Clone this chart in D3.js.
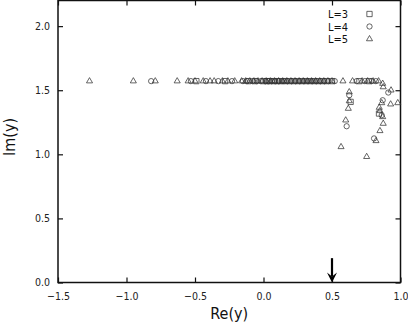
<!DOCTYPE html>
<head>
  <meta charset="utf-8">
  <script src="https://d3js.org/d3.v7.min.js"></script>
  <style>
    body { margin: 0; background: #fff; }
    .tick-label { font-family: "DejaVu Sans Condensed", "DejaVu Sans", sans-serif; font-size: 10.5px; fill: #222; }
    .title { font-family: "DejaVu Sans Condensed", "DejaVu Sans", sans-serif; font-size: 16px; fill: #111; }
    .legend { font-family: "DejaVu Sans Condensed", "DejaVu Sans", sans-serif; font-size: 11px; fill: #111; }
    .pt { fill: none; stroke: #333; stroke-width: 0.75; }
  </style>
</head>
<body>
  <script>

  // tick values
  var xTicks = [-1.5, -1.0, -0.5, 0.0, 0.5, 1.0];
  var yTicks = [0.0, 0.5, 1.0, 1.5, 2.0];

  // legend labels
  var seriesNames = ["L=3", "L=4", "L=5"];

  // points [Re(y), Im(y)]
  var l3Points = [
    [-0.49, 1.571], [-0.28, 1.571], [-0.11, 1.571], [-0.06, 1.571], [0.00, 1.571],
    [0.025, 1.571], [0.045, 1.571], [0.075, 1.571], [0.10, 1.571], [0.125, 1.571],
    [0.16, 1.571], [0.19, 1.571], [0.22, 1.571], [0.25, 1.571], [0.28, 1.571],
    [0.31, 1.571], [0.34, 1.571], [0.37, 1.571], [0.40, 1.571], [0.43, 1.571],
    [0.46, 1.571], [0.50, 1.571], [0.70, 1.571], [0.77, 1.571],
    [0.636, 1.409], [0.843, 1.318]
  ];
  var l4Points = [
    [-0.82, 1.571], [-0.53, 1.571], [-0.42, 1.571], [-0.33, 1.571], [-0.23, 1.571],
    [-0.15, 1.571], [-0.12, 1.571], [-0.08, 1.571], [-0.05, 1.571], [-0.02, 1.571],
    [0.015, 1.571], [0.035, 1.571], [0.06, 1.571], [0.085, 1.571], [0.11, 1.571],
    [0.135, 1.571], [0.15, 1.571], [0.175, 1.571], [0.205, 1.571], [0.235, 1.571],
    [0.265, 1.571], [0.295, 1.571], [0.325, 1.571], [0.355, 1.571], [0.385, 1.571],
    [0.415, 1.571], [0.445, 1.571], [0.475, 1.571], [0.52, 1.571], [0.68, 1.571],
    [0.74, 1.571], [0.79, 1.571], [0.82, 1.571],
    [0.911, 1.482], [0.626, 1.461], [0.870, 1.422], [0.863, 1.305], [0.607, 1.219],
    [0.807, 1.124]
  ];
  var l5Points = [
    [-1.27, 1.571], [-0.95, 1.571], [-0.79, 1.571], [-0.63, 1.571], [-0.55, 1.571],
    [-0.50, 1.571], [-0.44, 1.571], [-0.39, 1.571], [-0.36, 1.571], [-0.30, 1.571],
    [-0.26, 1.571], [-0.21, 1.571], [-0.16, 1.571], [-0.13, 1.571], [-0.10, 1.571],
    [-0.07, 1.571], [-0.04, 1.571], [-0.01, 1.571], [0.02, 1.571], [0.05, 1.571],
    [0.08, 1.571], [0.11, 1.571], [0.14, 1.571], [0.17, 1.571], [0.20, 1.571],
    [0.23, 1.571], [0.26, 1.571], [0.29, 1.571], [0.32, 1.571], [0.35, 1.571],
    [0.38, 1.571], [0.41, 1.571], [0.44, 1.571], [0.47, 1.571], [0.50, 1.571],
    [0.58, 1.571], [0.65, 1.571], [0.72, 1.571], [0.76, 1.571], [0.80, 1.571],
    [0.84, 1.571],
    [0.870, 1.552], [0.874, 1.525], [0.931, 1.500], [0.626, 1.486], [0.626, 1.416],
    [0.619, 1.357], [0.863, 1.401], [0.928, 1.391], [0.980, 1.401], [0.845, 1.365],
    [0.850, 1.339], [0.870, 1.292], [0.874, 1.240], [0.850, 1.183], [0.600, 1.266],
    [0.821, 1.105], [0.566, 1.058], [0.753, 0.981]
  ];

  // arrow marking Re(y) = 0.5
  var arrowRe = 0.5, arrowTopIm = 0.19;

  var width = 408, height = 326;
  var margin = {left: 58, right: 7.5, top: 0.5, bottom: 43.5};

  var x = d3.scaleLinear()
    .domain([-1.5, 1.0])
    .range([margin.left, width - margin.right]);

  var y = d3.scaleLinear()
    .domain([0, 2.2])
    .range([height - margin.bottom, margin.top]);

  var svg = d3.select("body").append("svg")
    .attr("width", width)
    .attr("height", height);

  // frame
  svg.append("rect")
    .attr("x", x(-1.5))
    .attr("y", y(2.2))
    .attr("width", x(1.0) - x(-1.5))
    .attr("height", y(0) - y(2.2))
    .attr("fill", "none")
    .attr("stroke", "#111")
    .attr("stroke-width", 1.5);

  // inner ticks on all four sides
  var tickLen = 5;
  svg.append("g").attr("transform", "translate(0," + y(0) + ")")
    .call(d3.axisBottom(x).tickValues(xTicks).tickSizeInner(-tickLen).tickSizeOuter(0).tickFormat(d3.format(".1f")))
    .call(function(g) {
      g.select(".domain").remove();
      g.selectAll("line").attr("stroke", "#111").attr("stroke-width", 1.2);
      g.selectAll("text").attr("class", "tick-label").attr("y", 10).attr("dy", "0.71em");
    });
  svg.append("g").attr("transform", "translate(0," + y(2.2) + ")")
    .call(d3.axisTop(x).tickValues(xTicks).tickSizeInner(-tickLen).tickSizeOuter(0).tickFormat(""))
    .call(function(g) {
      g.select(".domain").remove();
      g.selectAll("line").attr("stroke", "#111").attr("stroke-width", 1.2);
    });
  svg.append("g").attr("transform", "translate(" + x(-1.5) + ",0)")
    .call(d3.axisLeft(y).tickValues(yTicks).tickSizeInner(-tickLen).tickSizeOuter(0).tickFormat(d3.format(".1f")))
    .call(function(g) {
      g.select(".domain").remove();
      g.selectAll("line").attr("stroke", "#111").attr("stroke-width", 1.2);
      g.selectAll("text").attr("class", "tick-label").attr("x", -8);
    });
  svg.append("g").attr("transform", "translate(" + x(1.0) + ",0)")
    .call(d3.axisRight(y).tickValues(yTicks).tickSizeInner(-tickLen).tickSizeOuter(0).tickFormat(""))
    .call(function(g) {
      g.select(".domain").remove();
      g.selectAll("line").attr("stroke", "#111").attr("stroke-width", 1.2);
    });

  // axis titles
  svg.append("text")
    .attr("class", "title")
    .attr("x", (x(-1.5) + x(1.0)) / 2)
    .attr("y", 319)
    .attr("text-anchor", "middle")
    .text("Re(y)");
  svg.append("text")
    .attr("class", "title")
    .attr("transform", "translate(15,137) rotate(-90)")
    .attr("text-anchor", "middle")
    .text("Im(y)");

  // markers
  var shapes = [
    d3.symbol().type(d3.symbolSquare).size(28),
    d3.symbol().type(d3.symbolCircle).size(22),
    d3.symbol().type(d3.symbolTriangle).size(16)
  ];
  var allSeries = [l3Points, l4Points, l5Points];

  allSeries.forEach(function(pts, i) {
    svg.append("g").selectAll("path")
      .data(pts)
      .enter().append("path")
      .attr("class", "pt")
      .attr("transform", function(d) { return "translate(" + x(d[0]) + "," + y(d[1]) + ")"; })
      .attr("d", shapes[i]);
  });

  // legend
  var legend = svg.append("g");
  seriesNames.forEach(function(name, i) {
    legend.append("text")
      .attr("class", "legend")
      .attr("x", 328)
      .attr("y", 18 + i * 12.5)
      .text(name);
    legend.append("path")
      .attr("class", "pt")
      .attr("transform", "translate(369.5," + (14 + i * 12.5) + ")")
      .attr("d", shapes[i]);
  });

  // arrow
  svg.append("line")
    .attr("x1", x(arrowRe)).attr("x2", x(arrowRe))
    .attr("y1", y(arrowTopIm)).attr("y2", y(0) - 6)
    .attr("stroke", "#000")
    .attr("stroke-width", 2.2);
  svg.append("path")
    .attr("d", "M" + (x(arrowRe) - 5) + "," + (y(0) - 10) + "L" + x(arrowRe) + "," + y(0) + "L" + (x(arrowRe) + 5) + "," + (y(0) - 10) + "L" + x(arrowRe) + "," + (y(0) - 6) + "Z")
    .attr("fill", "#000");

  </script>
</body>
